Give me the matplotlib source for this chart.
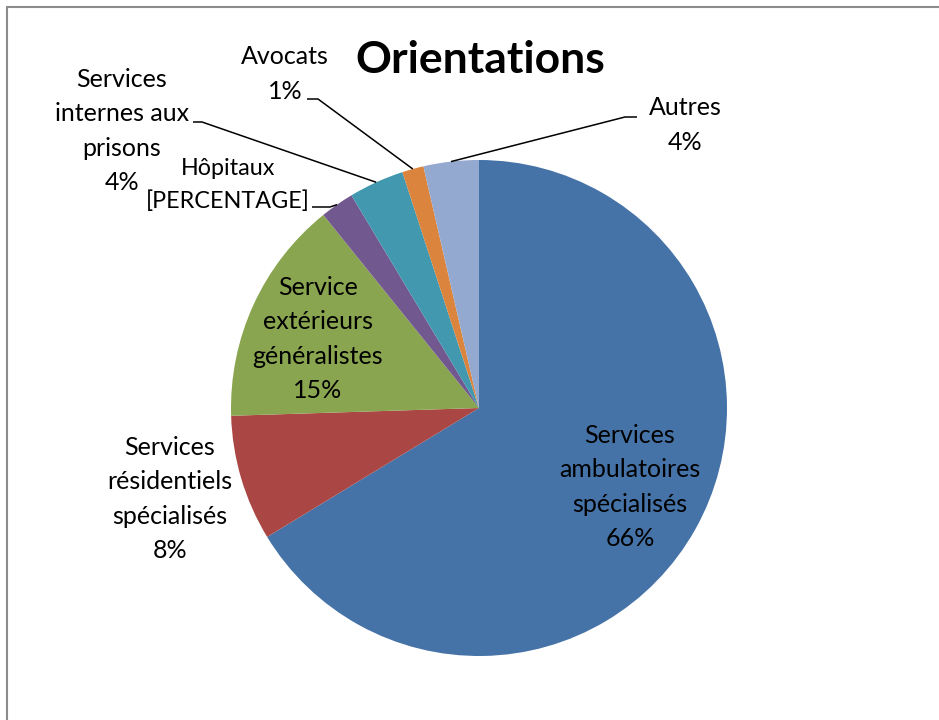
import numpy as np
import matplotlib.pyplot as plt
from matplotlib.patches import Rectangle

plt.rcParams['font.family'] = ['Lato', 'DejaVu Sans']

# Parts of each orientation (%), clockwise from the top
categories = ["Services\nambulatoires\nspécialisés",
              "Services\nrésidentiels\nspécialisés",
              "Service\nextérieurs\ngénéralistes",
              "Hôpitaux",
              "Services\ninternes aux\nprisons",
              "Avocats",
              "Autres"]
parts = [66.3, 8.2, 14.7, 2.2, 3.6, 1.4, 3.6]
colors = ['#4673A7', '#AA4643', '#8AA54F', '#71588F', '#4198AF', '#DB843D', '#93A9CF']

W, H = 939, 720
fig = plt.figure(figsize=(W / 100, H / 100), dpi=100)
ax = fig.add_axes([0, 0, 1, 1])

cx, cy, R = 479, H - 408, 248
wedges, _ = ax.pie(parts, colors=colors, startangle=90, counterclock=False,
                   center=(cx, cy), radius=R, wedgeprops=dict(linewidth=0))
ax.set_xlim(0, W)
ax.set_ylim(0, H)
ax.set_aspect('equal')
ax.axis('off')

# chart area border (top and left only visible)
ax.add_patch(Rectangle((7, -50), W + 50, H - 7 + 50, fill=False,
                       edgecolor='#8c8c8c', linewidth=1.5, clip_on=False))

ax.text(480, H - 60, "Orientations", ha='center', va='center',
        fontsize=32, fontweight='bold', color='black')


def lbl(i, pct=None):
    p = f"{round(parts[i]):.0f}%" if pct is None else pct
    return categories[i] + "\n" + p


def anchor(i):
    w = wedges[i]
    a = np.deg2rad((w.theta1 + w.theta2) / 2)
    return cx + R * np.cos(a), cy + R * np.sin(a)


fs = 18
ls = 1.58
# labels inside the big slices
ax.text(630, H - 487, lbl(0), ha='center', va='center', fontsize=fs, linespacing=ls)
ax.text(318, H - 339, lbl(2), ha='center', va='center', fontsize=fs, linespacing=ls)
# outside labels
ax.text(170, H - 499, lbl(1), ha='center', va='center', fontsize=fs, linespacing=ls)
ax.text(228, H - 185, lbl(3, "[PERCENTAGE]"), ha='center', va='center',
        fontsize=16.8, linespacing=1.68)
ax.text(122, H - 131, lbl(4), ha='center', va='center', fontsize=fs, linespacing=ls)
ax.text(285, H - 74, lbl(5), ha='center', va='center', fontsize=fs, linespacing=ls)
ax.text(685, H - 125, lbl(6), ha='center', va='center', fontsize=fs, linespacing=ls)

# leader lines: short horizontal stub, then to the slice edge
stubs = {3: ((312, 207), (330, 207)),
         4: ((193, 122), (202, 122)),
         5: ((307, 99), (318, 99)),
         6: ((637, 117), (625, 117))}
for i, (p0, p1) in stubs.items():
    ax_, ay_ = anchor(i)
    ax.plot([p0[0], p1[0], ax_], [H - p0[1], H - p1[1], ay_],
            color='black', linewidth=1.1, solid_capstyle='butt')

fig.savefig('out.png', dpi=100)
